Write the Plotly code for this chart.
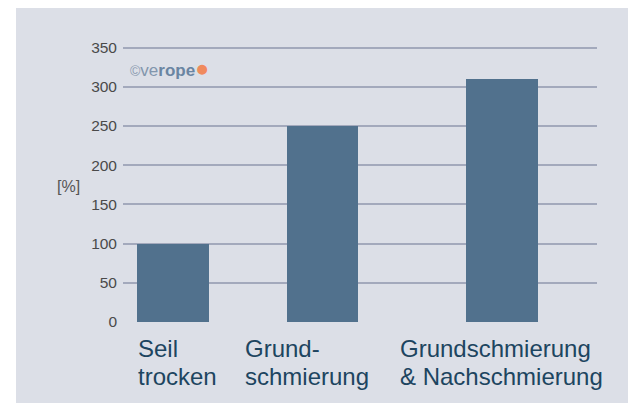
import plotly.graph_objects as go

# ---- data ----
categories = ["Seil<br>trocken", "Grund-<br>schmierung", "Grundschmierung<br>& Nachschmierung"]
values = [100, 250, 310]
y_ticks = [0, 50, 100, 150, 200, 250, 300, 350]
y_title = "[%]"

# ---- layout helpers (axis units) ----
bar_slots = [0, 1, 2.2]
label_left = [-0.245, 0.468, 1.505]

BG = "#dcdfe7"
BAR = "#51718d"
GRID = "#a3a9bc"
FONT = "Liberation Sans, Arial, sans-serif"

OFF = 8  # page body margin
W, H = 636 - OFF, 403 - OFF
Y_TOP = 352.0
# plot area in page pixels: x 123..597, y(0)=322, y(350)=48
px_per_unit = (322 - 48) / 350
top_px = 322 - Y_TOP * px_per_unit
ml, mr = 123 - OFF, 636 - 597
mt, mb = top_px - OFF, 403 - 322
pw, ph = W - ml - mr, H - mt - mb


def px_x(p):
    return (p - OFF - ml) / pw


def px_y(p):
    return (H - mb - (p - OFF)) / ph


fig = go.Figure()
fig.add_trace(go.Bar(
    x=bar_slots, y=values, width=0.48,
    marker=dict(color=BAR, line=dict(width=0)),
    hoverinfo="skip", showlegend=False,
))

fig.add_shape(type="rect", xref="paper", yref="paper",
              x0=px_x(16), x1=px_x(640), y0=px_y(410), y1=px_y(8),
              fillcolor=BG, line=dict(width=0), layer="below")

line_mid = [348, 376]
for cat, lx in zip(categories, label_left):
    for line, ym in zip(cat.split("<br>"), line_mid):
        fig.add_annotation(x=lx, y=px_y(ym), xref="x", yref="paper",
                           text=line, showarrow=False, xanchor="left", yanchor="middle",
                           font=dict(family=FONT, size=24, color="#1d4560"))

fig.add_annotation(x=px_x(55), y=px_y(187), xref="paper", yref="paper",
                   text=y_title, showarrow=False, xanchor="left", yanchor="middle",
                   font=dict(family=FONT, size=16, color="#555555"))

fig.add_annotation(x=px_x(128), y=px_y(68), xref="paper", yref="paper",
                   text="<span style='color:#8b9bb0;font-size:14px'>©</span>"
                        "<span style='color:#8296ad'>ve</span>"
                        "<b><span style='color:#6a85a2'>rope</span></b>"
                        "<span style='color:#f08a5d;font-size:23px'>●</span>",
                   showarrow=False, xanchor="left", yanchor="middle",
                   font=dict(family=FONT, size=17))

fig.update_layout(
    width=W, height=H,
    margin=dict(l=ml, r=mr, t=mt, b=mb, pad=0),
    paper_bgcolor="white", plot_bgcolor=BG,
    bargap=0,
    xaxis=dict(range=[-0.334, 2.836], showgrid=False, showticklabels=False,
               zeroline=False, showline=False, ticks="", fixedrange=True),
    yaxis=dict(range=[0, Y_TOP], tickvals=y_ticks, showgrid=True, gridcolor=GRID,
               gridwidth=1.5, zeroline=False, showline=False, ticks="",
               ticklabelstandoff=5,
               tickfont=dict(family=FONT, size=15.5, color="#4a4a4a"),
               fixedrange=True),
    font=dict(family=FONT),
)

fig.write_html("out.html", config={"displayModeBar": False})
